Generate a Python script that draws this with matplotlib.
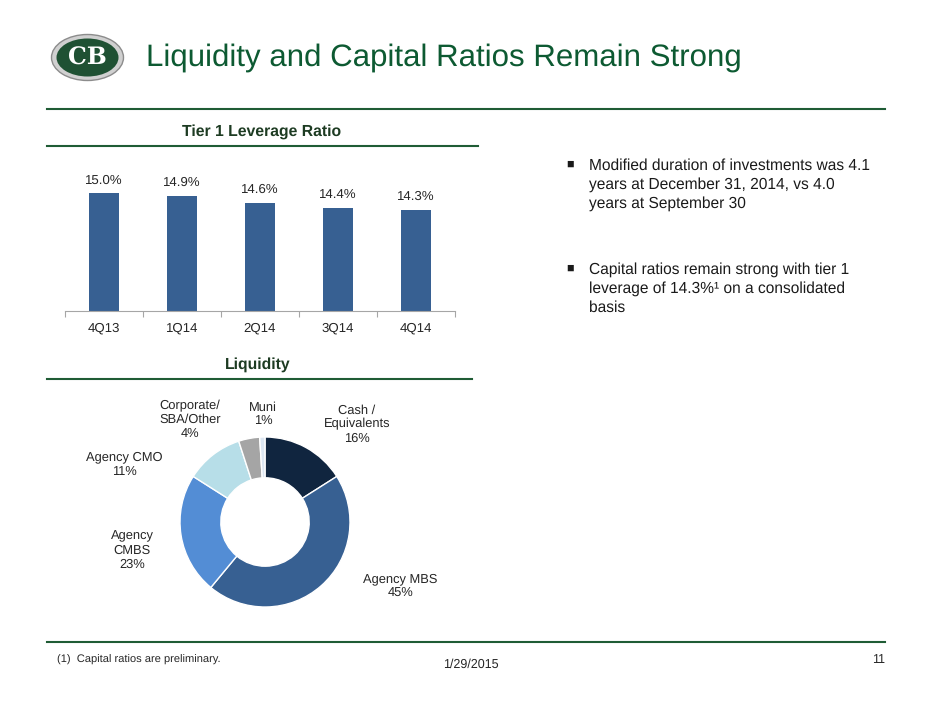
import matplotlib
matplotlib.use('Agg')
import matplotlib.pyplot as plt
from matplotlib.patches import Ellipse

plt.rcParams['font.family'] = ['Liberation Sans', 'DejaVu Sans']
plt.rcParams['text.hinting'] = 'no_hinting'

# data
quarters = ['4Q13', '1Q14', '2Q14', '3Q14', '4Q14']
leverage = [15.0, 14.9, 14.6, 14.4, 14.3]

liq_names = ['Cash /\nEquivalents', 'Agency MBS', 'Agency\nCMBS', 'Agency CMO',
             'Corporate/\nSBA/Other', 'Muni']
liq_values = [16, 45, 23, 11, 4, 1]
liq_colors = ['#10253f', '#376092', '#538dd5', '#b7dee8', '#a5a5a5', '#dce6f2']
# label positions (donut units, radius = 1)
liq_label_xy = [(1.08, 1.15), (1.59, -0.75), (-1.56, -0.33), (-1.65, 0.68),
                (-0.88, 1.2), (-0.02, 1.27)]

green = '#0d5a32'
line_green = '#1f5c35'
head_col = '#1d3b22'
txt = '#262626'

fig = plt.figure(figsize=(9.4, 7.05), dpi=100)

# overlay in pixel coordinates for header, rules, notes
ov = fig.add_axes([0, 0, 1, 1], facecolor='none')
ov.set_xlim(0, 940)
ov.set_ylim(705, 0)
ov.axis('off')

# logo
ov.add_patch(Ellipse((87.5, 57.5), 72, 46, facecolor='#d0d0d0', edgecolor='#8c8c8c', lw=1))
ov.add_patch(Ellipse((87.5, 57.5), 62, 38, facecolor='#1f5133', edgecolor='none'))
ov.text(87.5, 58, 'CB', color='white', fontsize=17, fontweight='bold',
        family='DejaVu Serif', ha='center', va='center')

ov.text(146, 58, 'Liquidity and Capital Ratios Remain Strong', color=green,
        fontsize=22.5, ha='left', va='center')

# rules
ov.plot([47, 885], [108.5, 108.5], color=line_green, lw=1.5)
ov.plot([47, 478], [146, 146], color=line_green, lw=1.5)
ov.plot([47, 472], [379, 379], color=line_green, lw=1.5)
ov.plot([47, 885], [642, 642], color=line_green, lw=1.5)

ov.text(262, 132, 'Tier 1 Leverage Ratio', color=head_col, fontsize=11.3,
        fontweight='bold', ha='center', va='center')
ov.text(258, 365, 'Liquidity', color=head_col, fontsize=11.3,
        fontweight='bold', ha='center', va='center')

# bullets
bullets = [(164, 'Modified duration of investments was 4.1\nyears at December 31, 2014, vs 4.0\nyears at September 30'),
           (268, 'Capital ratios remain strong with tier 1\nleverage of 14.3%\u00b9 on a consolidated\nbasis')]
for y, s in bullets:
    ov.text(570, y, '\u25a0', fontsize=9, color='#1a1a1a', ha='center', va='center')
    ov.text(589, y - 6, s, fontsize=11.2, color='#1a1a1a', ha='left', va='top',
            linespacing=1.36)

# footer
ov.text(57, 660, '(1)  Capital ratios are preliminary.', fontsize=8, color=txt,
        ha='left', va='center')
ov.text(471, 665, '1/29/2015', fontsize=9, color=txt, ha='center', va='center')
ov.text(885, 660, '11', fontsize=9, color=txt, ha='right', va='center')

# bar chart
ax = fig.add_axes([65 / 940, (705 - 311) / 705, 390 / 940, 141 / 705], facecolor='none')
x = list(range(len(quarters)))
ax.bar(x, leverage, width=0.39, color='#376092')
ax.set_ylim(10, 16)
ax.set_xlim(-0.5, len(quarters) - 0.5)
for xi, v in zip(x, leverage):
    ax.annotate(f'{v:.1f}%', (xi, v), xytext=(0, 5), textcoords='offset points',
                ha='center', va='bottom', fontsize=9.5, color=txt)
for s in ['top', 'right', 'left']:
    ax.spines[s].set_visible(False)
ax.spines['bottom'].set_color('#a6a6a6')
ax.set_yticks([])
ax.set_xticks([i - 0.5 for i in range(len(quarters) + 1)])
ax.set_xticklabels([])
ax.tick_params(axis='x', which='major', length=4, color='#a6a6a6', direction='out')
ax.set_xticks(x, minor=True)
ax.set_xticklabels(quarters, minor=True)
ax.tick_params(axis='x', which='minor', length=0, pad=8, labelsize=9.5, labelcolor=txt)

# donut
ax2 = fig.add_axes([95 / 940, 13 / 705, 340 / 940, 340 / 705], facecolor='none')
ax2.pie(liq_values, colors=liq_colors, startangle=90, counterclock=False, radius=1,
        wedgeprops=dict(width=0.48, edgecolor='white', linewidth=1))
ax2.set_xlim(-2, 2)
ax2.set_ylim(-2, 2)
for name, v, (lx, ly) in zip(liq_names, liq_values, liq_label_xy):
    ax2.text(lx, ly, f'{name}\n{v}%', ha='center', va='center', fontsize=9.3,
             color=txt, linespacing=1.2)

fig.savefig('out.png', dpi=100)
